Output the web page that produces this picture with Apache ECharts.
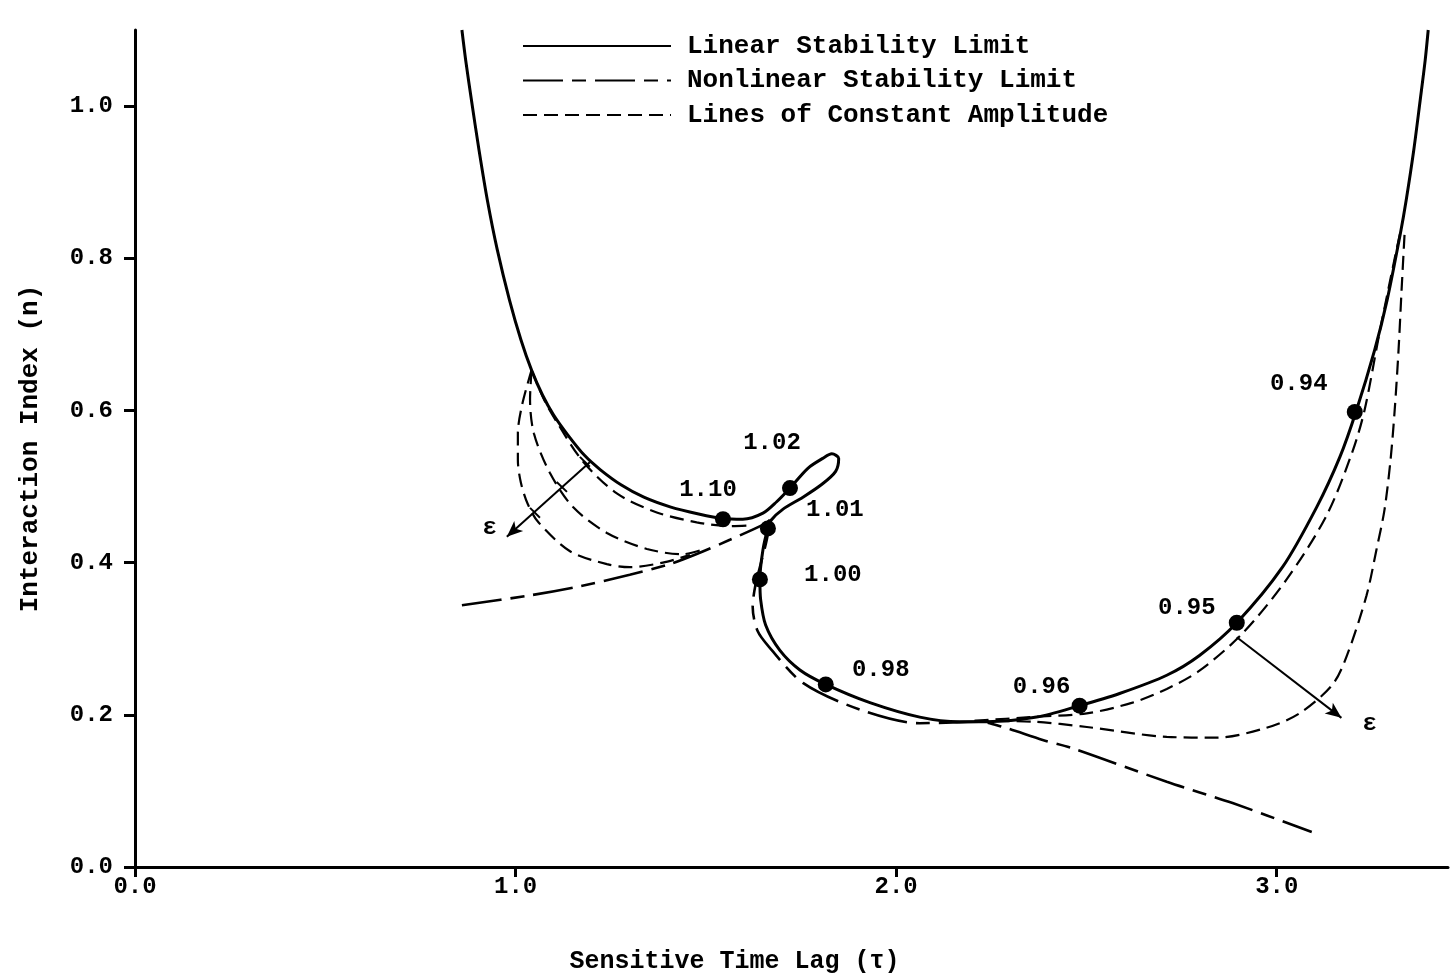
<!DOCTYPE html>
<html><head><meta charset="utf-8">
<script src="https://cdn.jsdelivr.net/npm/echarts@6/dist/echarts.min.js"></script>
<style>html,body{margin:0;padding:0;background:#fff}#c{width:1450px;height:980px}</style>
</head><body><div id="c"></div>
<script>
// ---- data ----
const xTicks = [0, 1, 2, 3];
const yTicks = [0, 0.2, 0.4, 0.6, 0.8, 1.0];
const xName = 'Sensitive Time Lag (\u03c4)';
const yName = 'Interaction Index (n)';
const legendNames = ['Linear Stability Limit', 'Nonlinear Stability Limit', 'Lines of Constant Amplitude'];

const linearLimit = [[0.859,1.100],[0.869,1.060],[0.884,1.008],[0.904,0.942],[0.926,0.876],[0.952,0.811],[0.984,0.745],[1.014,0.693],[1.042,0.653],[1.071,0.620],[1.100,0.594],[1.137,0.568],[1.181,0.541],[1.223,0.522],[1.278,0.502],[1.337,0.486],[1.408,0.473],[1.481,0.464],[1.545,0.458],[1.597,0.457],[1.650,0.465],[1.686,0.480],[1.721,0.498],[1.768,0.524],[1.807,0.537],[1.831,0.543],[1.849,0.537],[1.841,0.520],[1.805,0.503],[1.755,0.486],[1.702,0.470],[1.672,0.456],[1.663,0.445],[1.650,0.417],[1.642,0.378],[1.644,0.351],[1.657,0.318],[1.694,0.285],[1.747,0.259],[1.815,0.240],[1.931,0.216],[2.062,0.197],[2.167,0.191],[2.238,0.191],[2.369,0.197],[2.482,0.212],[2.587,0.228],[2.711,0.252],[2.797,0.278],[2.895,0.321],[3.015,0.394],[3.105,0.473],[3.166,0.539],[3.208,0.598],[3.257,0.679],[3.290,0.745],[3.325,0.833],[3.340,0.876],[3.360,0.942],[3.377,1.008],[3.390,1.060],[3.398,1.100]];

const nonlinearLimit = [[0.859,0.344],[1.038,0.357],[1.169,0.369],[1.300,0.384],[1.405,0.398],[1.484,0.413],[1.563,0.430],[1.655,0.451],[1.668,0.456],[1.660,0.430],[1.645,0.400],[1.630,0.370],[1.623,0.342],[1.636,0.310],[1.668,0.288],[1.755,0.242],[1.904,0.207],[2.062,0.189],[2.149,0.190],[2.220,0.191],[2.280,0.184],[2.385,0.167],[2.464,0.156],[2.711,0.112],[2.884,0.084],[3.092,0.046]];

const ampLeftA = [[1.042,0.653],[1.077,0.612],[1.108,0.585],[1.177,0.533],[1.266,0.491],[1.371,0.466],[1.476,0.453],[1.563,0.448],[1.620,0.449]];
const ampLeftB = [[1.042,0.653],[1.038,0.615],[1.048,0.570],[1.090,0.518],[1.151,0.473],[1.240,0.439],[1.345,0.418],[1.439,0.411],[1.497,0.418]];
const ampLeftC = [[1.042,0.653],[1.017,0.607],[1.006,0.570],[1.006,0.535],[1.014,0.505],[1.032,0.477],[1.060,0.453],[1.143,0.415],[1.240,0.398],[1.300,0.394],[1.387,0.400],[1.458,0.410]];
const ampRightA = [[2.206,0.192],[2.351,0.197],[2.501,0.202],[2.621,0.216],[2.711,0.234],[2.797,0.258],[2.910,0.307],[3.026,0.378],[3.131,0.462],[3.199,0.546],[3.231,0.601],[3.270,0.702],[3.310,0.800],[3.326,0.837]];
const ampRightB = [[2.206,0.192],[2.359,0.191],[2.501,0.184],[2.711,0.171],[2.842,0.170],[2.973,0.183],[3.060,0.202],[3.147,0.240],[3.186,0.280],[3.236,0.357],[3.262,0.417],[3.283,0.469],[3.299,0.535],[3.310,0.601],[3.320,0.679],[3.328,0.758],[3.336,0.833]];

const markerLabels = ['1.10', '1.02', '1.01', '1.00', '0.98', '0.96', '0.95', '0.94'];
const markerPoints = [[1.545,0.457],[1.721,0.498],[1.663,0.445],[1.642,0.378],[1.815,0.240],[2.482,0.212],[2.895,0.321],[3.205,0.598]];

const arrowLeft = [[1.195,0.532],[0.977,0.434]];
const arrowRight = [[2.895,0.302],[3.170,0.196]];
const arrowLeftTicks = [[[1.169,0.539],[1.195,0.526]], [[1.108,0.506],[1.135,0.493]], [[1.038,0.472],[1.064,0.459]]];
const epsLabels = ['\u03b5', '\u03b5'];
const epsPoints = [[0.932,0.445],[3.244,0.188]];

// ---- styling (not data) ----
const labelOffsets = [[-15,-29],[-18,-45],[67,-18],[73,-4],[55,-14],[-38,-19],[-50,-15],[-56,-28]];
const FONT = 'Liberation Mono';
const WEIGHT = 'bold';
const ampStyle = { color: '#000', width: 2.2, type: [14, 7] };
const ampSeries = (d) => ({
  type: 'line', name: legendNames[2], data: d, symbol: 'none', smooth: 0.3,
  lineStyle: ampStyle, itemStyle: { color: '#000' }, silent: true, z: 2
});
const arrowSeries = (a, ticks) => ({
  type: 'line', data: [], silent: true,
  markLine: {
    silent: true, symbol: 'none', animation: false,
    lineStyle: { color: '#000', width: 2, type: 'solid' }, label: { show: false },
    data: [[{ coord: a[0], symbol: 'none' }, { coord: a[1], symbol: 'arrow', symbolSize: [10, 16] }]]
      .concat((ticks || []).map(t => [{ coord: t[0] }, { coord: t[1] }]))
  }
});

const chart = echarts.init(document.getElementById('c'), null, { renderer: 'canvas' });
chart.setOption({
  animation: false,
  backgroundColor: '#fff',
  grid: { left: 135, right: 2, top: 30, bottom: 113 },
  legend: {
    data: legendNames, orient: 'vertical', left: 517, top: 28,
    itemWidth: 148, itemHeight: 26, itemGap: 8.5, selectedMode: false,
    itemStyle: { opacity: 0, color: 'rgba(0,0,0,0)', borderWidth: 0 },
    textStyle: { fontFamily: FONT, fontWeight: WEIGHT, fontSize: 26, color: '#000', padding: [0, 0, 0, 11], lineHeight: 26 }
  },
  xAxis: {
    type: 'value', min: 0, max: 3.45, interval: 1,
    name: xName, nameLocation: 'middle', nameGap: 82,
    nameTextStyle: { fontFamily: FONT, fontWeight: WEIGHT, fontSize: 25, color: '#000', padding: [0, 114, 0, 0] },
    axisLine: { show: true, onZero: false, lineStyle: { color: '#000', width: 3 } },
    axisTick: { show: true, inside: false, length: 10, lineStyle: { color: '#000', width: 3 }, customValues: xTicks },
    axisLabel: { fontFamily: FONT, fontWeight: WEIGHT, fontSize: 24, color: '#000', margin: 8, customValues: xTicks, formatter: v => v.toFixed(1) },
    splitLine: { show: false }
  },
  yAxis: {
    type: 'value', min: 0, max: 1.1, interval: 0.2,
    name: yName, nameLocation: 'middle', nameGap: 92, nameRotate: 90,
    nameTextStyle: { fontFamily: FONT, fontWeight: WEIGHT, fontSize: 26, color: '#000' },
    axisLine: { show: true, onZero: false, lineStyle: { color: '#000', width: 3 } },
    axisTick: { show: true, inside: false, length: 11, lineStyle: { color: '#000', width: 3 }, customValues: yTicks },
    axisLabel: { fontFamily: FONT, fontWeight: WEIGHT, fontSize: 24, color: '#000', margin: 22, customValues: yTicks, formatter: v => v.toFixed(1) },
    splitLine: { show: false }
  },
  series: [
    { type: 'line', name: legendNames[0], data: linearLimit, symbol: 'none', smooth: 0.3,
      lineStyle: { color: '#000', width: 3, type: 'solid' }, itemStyle: { color: '#000' }, silent: true, z: 3 },
    { type: 'line', name: legendNames[1], data: nonlinearLimit, symbol: 'none', smooth: 0.3,
      lineStyle: { color: '#000', width: 2.6, type: [40, 9, 14, 9] }, itemStyle: { color: '#000' }, silent: true, z: 3 },
    ampSeries(ampLeftA), ampSeries(ampLeftB), ampSeries(ampLeftC),
    ampSeries(ampRightA), ampSeries(ampRightB),
    arrowSeries(arrowLeft, arrowLeftTicks), arrowSeries(arrowRight),
    { type: 'scatter', data: markerPoints.map((p, i) => ({
        value: p, name: markerLabels[i],
        label: { offset: labelOffsets[i] }
      })),
      symbol: 'circle', symbolSize: 16, itemStyle: { color: '#000', opacity: 1 }, silent: true, z: 5,
      label: { show: true, position: 'inside', formatter: p => p.name, fontFamily: FONT, fontWeight: WEIGHT, fontSize: 24, color: '#000' }
    },
    { type: 'scatter', data: epsPoints.map((p, i) => ({ value: p, name: epsLabels[i] })),
      symbolSize: 2, itemStyle: { color: 'rgba(0,0,0,0)', opacity: 1 }, silent: true, z: 5,
      label: { show: true, position: 'inside', formatter: p => p.name, fontFamily: FONT, fontWeight: WEIGHT, fontSize: 24, color: '#000' }
    }
  ]
});
</script>
</body></html>
